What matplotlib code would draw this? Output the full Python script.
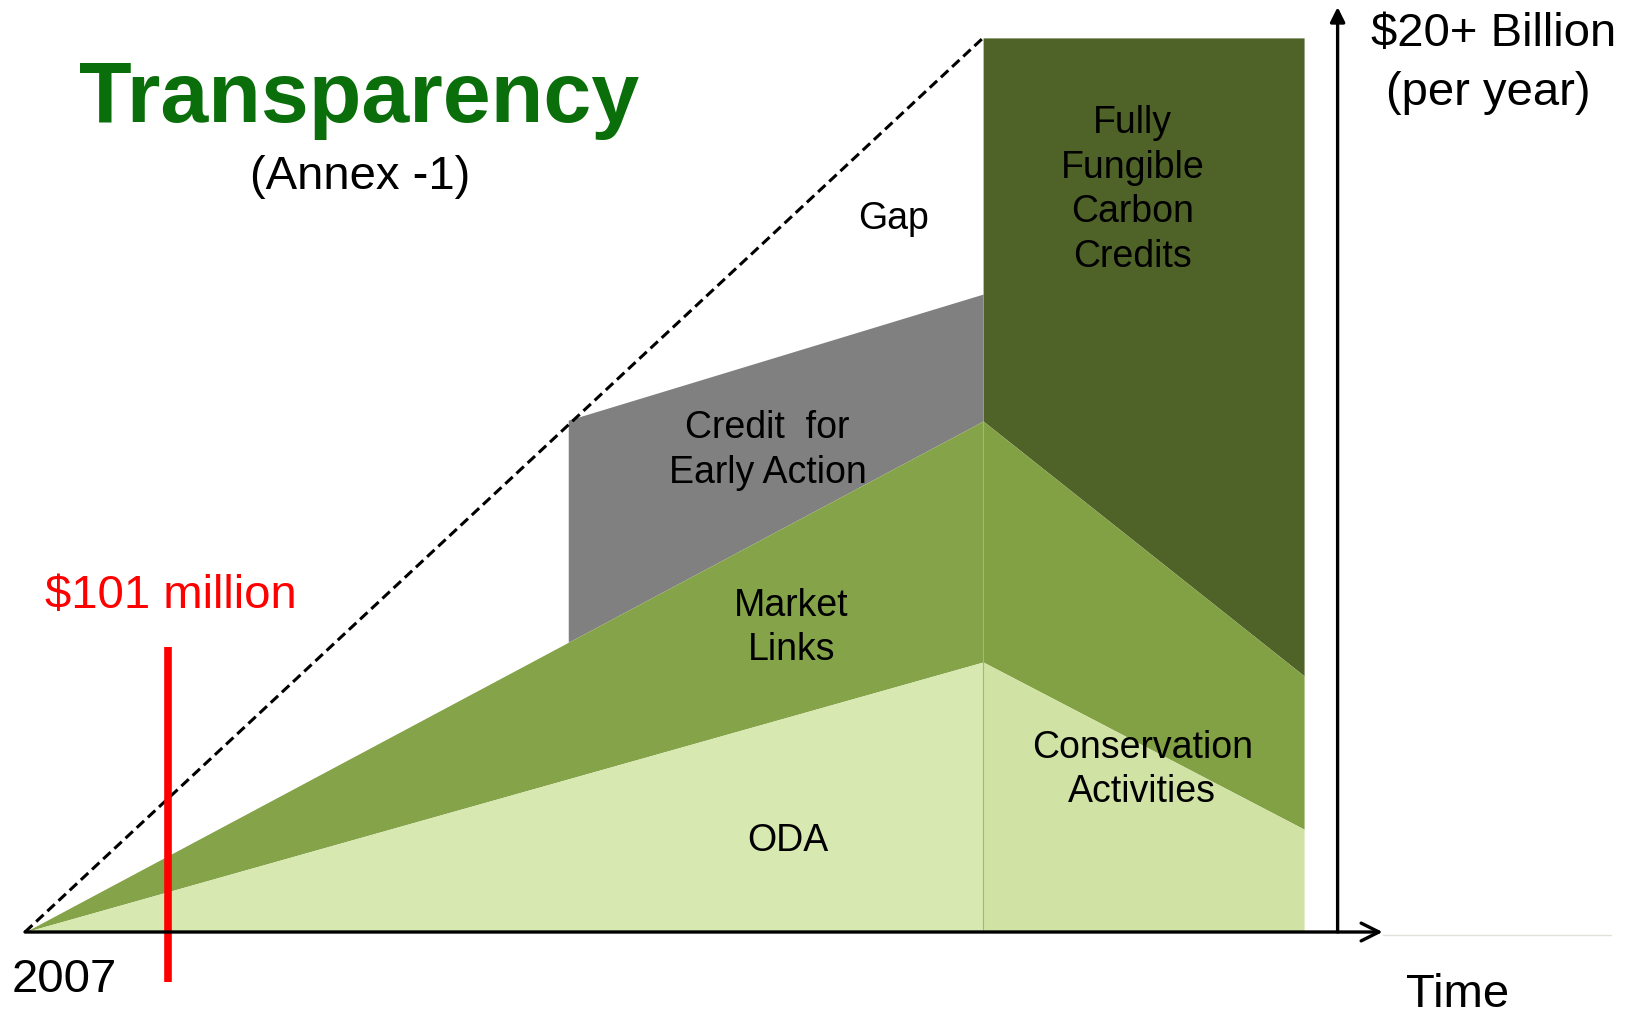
import numpy as np
import matplotlib
matplotlib.use("Agg")
import matplotlib.pyplot as plt

plt.rcParams['font.family'] = ['Liberation Sans', 'DejaVu Sans']

# time break points (arbitrary units, 0 = 2007) and stacked levels (billion $/yr)
phase_x = [0.0, 10.0, 13.35]
oda_top = [0.0, 6.04, 2.30]
market_top = [0.0, 11.43, 5.73]
early_x = [5.67, 10.0]
early_top = [11.45, 14.27]
fungible_x = [10.0, 13.35]
fungible_top = [20.0, 20.0]
target_x = [0.0, 10.0]
target_y = [0.0, 20.0]
red_x = 1.49
red_y = [-1.12, 6.38]

c_oda = ['#d7e8b0', '#d1e2a5']
c_market = ['#85a449', '#82a044']
c_early = '#808080'
c_fungible = '#4f6228'

fig = plt.figure(figsize=(16.26, 10.12), dpi=100)
ax = fig.add_axes([0, 0, 1, 1])
ax.set_xlim(-0.261, 16.71)
ax.set_ylim(-1.767, 20.87)
ax.axis('off')

left = np.array(phase_x[:2])
right = np.array(phase_x[1:])

# dark green block first, market layer on top of its lower edge
ax.fill_between(fungible_x, np.interp(fungible_x, phase_x, market_top),
                fungible_top, color=c_fungible, lw=0)
ax.fill_between(early_x, np.interp(early_x, phase_x, market_top),
                early_top, color=c_early, lw=0)
ax.fill_between(left, oda_top[:2], market_top[:2], color=c_market[0], lw=0)
ax.fill_between(right, oda_top[1:], market_top[1:], color=c_market[1], lw=0)
ax.fill_between(left, 0, oda_top[:2], color=c_oda[0], lw=0)
ax.fill_between(right, 0, oda_top[1:], color=c_oda[1], lw=0)
ax.plot([phase_x[1], phase_x[1]], [0, market_top[1]], color='#a2ba74', lw=0.8)

# target line
ax.plot(target_x, target_y, color='black', lw=2.2, dashes=(3.3, 1.7))

# axes with arrows
ax.annotate('', xy=(14.17, 0), xytext=(0, 0),
            arrowprops=dict(arrowstyle='->', lw=2.4, color='black',
                            mutation_scale=32, shrinkA=0, shrinkB=0))
ax.annotate('', xy=(13.70, 20.69), xytext=(13.70, 0),
            arrowprops=dict(arrowstyle='-|>', lw=2.4, color='black',
                            mutation_scale=22, shrinkA=0, shrinkB=0))
ax.plot([14.17, 16.55], [-0.06, -0.06], color='#e2e2da', lw=1)

# red marker
ax.plot([red_x, red_x], red_y, color='#ff0000', lw=5.5, solid_capstyle='butt')

# texts
ax.text(3.49, 18.15, 'Transparency', color='#0a6e0a', fontsize=62,
        fontweight='bold', ha='center', va='baseline')
ax.text(3.50, 16.64, '(Annex -1)', fontsize=34, ha='center', va='baseline')
ax.text(14.05, 19.85, '$20+ Billion', fontsize=34, ha='left', va='baseline')
ax.text(15.27, 18.53, '(per year)', fontsize=34, ha='center', va='baseline')
ax.text(1.52, 7.28, '$101 million', color='#ff0000', fontsize=34,
        ha='center', va='baseline')
ax.text(0.41, -1.32, '2007', fontsize=34, ha='center', va='baseline')
ax.text(14.95, -1.65, 'Time', fontsize=34, ha='center', va='baseline')

lab = dict(fontsize=27, ha='center', va='center', multialignment='center',
           linespacing=1.3)
ax.text(9.07, 15.98, 'Gap', **lab)
ax.text(11.56, 16.62, 'Fully\nFungible\nCarbon\nCredits', **lab)
ax.text(7.75, 10.79, 'Credit  for\nEarly Action', **lab)
ax.text(8.0, 6.82, 'Market\nLinks', **lab)
ax.text(11.66, 3.64, 'Conservation\nActivities', **lab)
ax.text(7.96, 2.06, 'ODA', **lab)

fig.savefig('out.png', dpi=100)
